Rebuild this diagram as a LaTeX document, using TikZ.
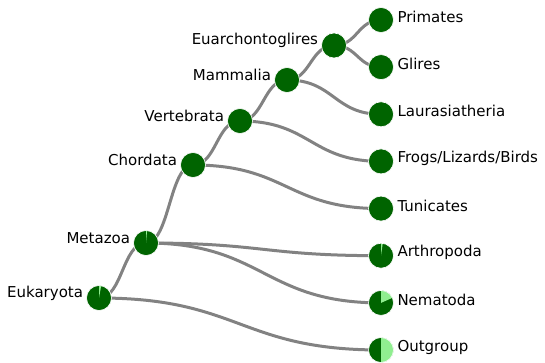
\documentclass[tikz,border=0pt]{standalone}
\usepackage{fontspec}
\setmainfont{DejaVu Sans}
\usetikzlibrary{backgrounds,calc}
\definecolor{dg}{RGB}{0,100,0}
\definecolor{lg}{RGB}{144,238,144}
\definecolor{eg}{RGB}{130,130,130}
\newcommand\diagedge[2]{\draw[edge] let \p1=(#1.center),\p2=(#2.center) in (#1.center) .. controls ({(\x1+\x2)/2},\y1) and ({(\x1+\x2)/2},\y2) .. (#2.center);}
\begin{document}
\begin{tikzpicture}[x=1pt,y=1pt,
  tnode/.style={circle,fill=dg,draw=white,line width=0.6pt,minimum size=25pt,inner sep=0pt},
  pie/.style={path picture={\fill[lg] (path picture bounding box.center) -- ++(90:14) arc[start angle=90,end angle=#1,radius=14] -- cycle;}},
  edge/.style={draw=eg,line width=3pt},
  lab/.style={font=\fontsize{15}{17}\selectfont,inner sep=0pt,text=black}]
\useasboundingbox (0,0) rectangle (545,363);
% internal nodes
\node[tnode,pie=80] (euk) at (99,65) {};
\node[tnode,pie=85] (met) at (146,120) {};
\node[tnode] (cho) at (193,198) {};
\node[tnode] (ver) at (240,242) {};
\node[tnode] (mam) at (287,283) {};
\node[tnode] (eua) at (334,317.5) {};
% leaves
\node[tnode] (pri) at (381,343) {};
\node[tnode] (gli) at (381,295.9) {};
\node[tnode] (lau) at (381,248.7) {};
\node[tnode] (fro) at (381,201.6) {};
\node[tnode] (tun) at (381,154.4) {};
\node[tnode,pie=82] (art) at (381,107.3) {};
\node[tnode,pie=24] (nem) at (381,60.1) {};
\node[tnode,pie=-90] (out) at (381,13) {};
% labels
\node[lab,anchor=east] (eukl) at ($(euk.west)+(-3,5)$) {Eukaryota};
\node[lab,anchor=east] (metl) at ($(met.west)+(-3,5)$) {Metazoa};
\node[lab,anchor=east] (chol) at ($(cho.west)+(-3,5)$) {Chordata};
\node[lab,anchor=east] (verl) at ($(ver.west)+(-3,5)$) {Vertebrata};
\node[lab,anchor=east] (maml) at ($(mam.west)+(-3,5)$) {Mammalia};
\node[lab,anchor=east] (eual) at ($(eua.west)+(-3,5)$) {Euarchontoglires};
\node[lab,anchor=west] (pril) at ($(pri.east)+(3.5,3)$) {Primates};
\node[lab,anchor=west] (glil) at ($(gli.east)+(3.5,3)$) {Glires};
\node[lab,anchor=west] (laul) at ($(lau.east)+(3.5,3)$) {Laurasiatheria};
\node[lab,anchor=west] (frol) at ($(fro.east)+(3.5,3)$) {Frogs/Lizards/Birds};
\node[lab,anchor=west] (tunl) at ($(tun.east)+(3.5,3)$) {Tunicates};
\node[lab,anchor=west] (artl) at ($(art.east)+(3.5,3)$) {Arthropoda};
\node[lab,anchor=west] (neml) at ($(nem.east)+(3.5,3)$) {Nematoda};
\node[lab,anchor=west] (outl) at ($(out.east)+(3.5,3)$) {Outgroup};
\begin{scope}[on background layer]
\diagedge{euk}{met}
\diagedge{euk}{out}
\diagedge{met}{cho}
\diagedge{met}{art}
\diagedge{met}{nem}
\diagedge{cho}{ver}
\diagedge{cho}{tun}
\diagedge{ver}{mam}
\diagedge{ver}{fro}
\diagedge{mam}{eua}
\diagedge{mam}{lau}
\diagedge{eua}{pri}
\diagedge{eua}{gli}
\end{scope}
\end{tikzpicture}
\end{document}
